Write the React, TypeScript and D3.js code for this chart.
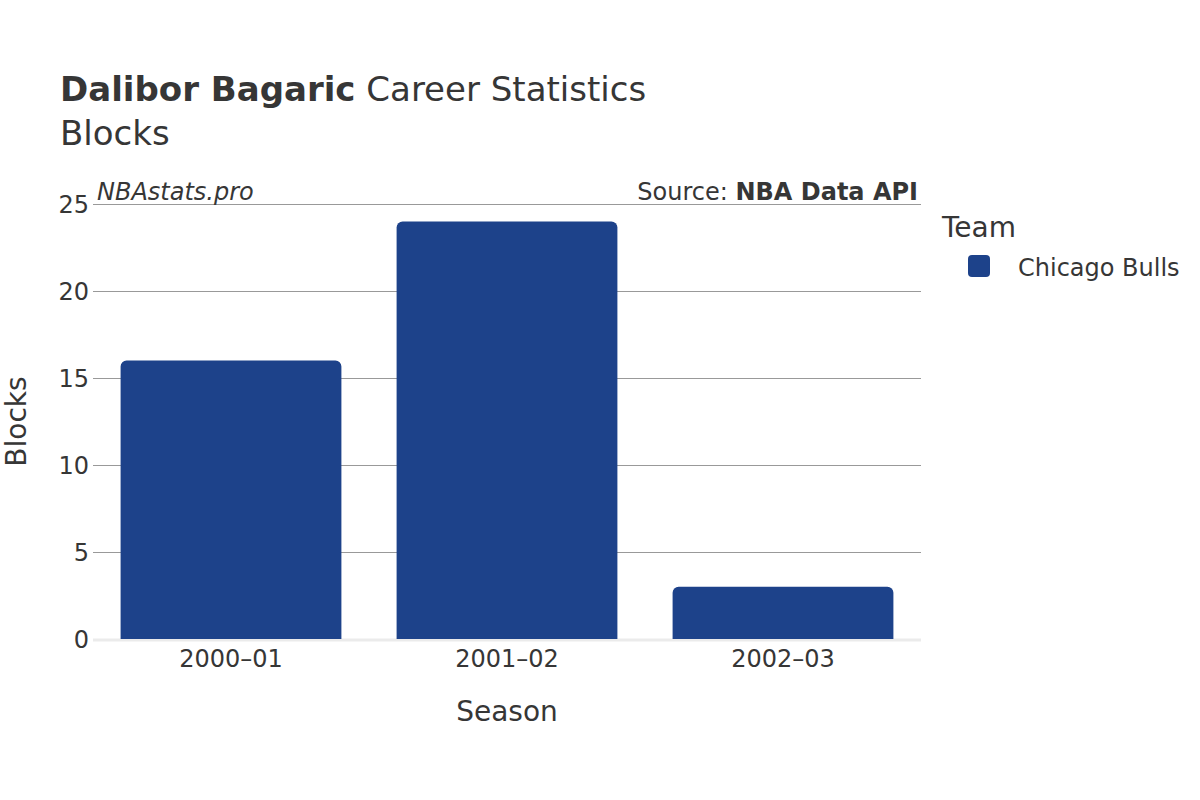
import React from "react";
import * as d3 from "d3";

const seasons = ["2000–01", "2001–02", "2002–03"];
const blocks = [16, 24, 3];
const yTicks = [0, 5, 10, 15, 20, 25];
const teamName = "Chicago Bulls";
const teamColor = "#1d428a";

const W = 1200;
const H = 800;
const M = { left: 93, right: 921, top: 204, bottom: 639 };
const FONT = "'DejaVu Sans', sans-serif";
const TXT = "#363636";

function barPath(x: number, y: number, w: number, h: number, r: number) {
  const rr = Math.min(r, h / 2, w / 2);
  const p = d3.path();
  p.moveTo(x, y + h);
  p.lineTo(x, y + rr);
  p.arcTo(x, y, x + rr, y, rr);
  p.lineTo(x + w - rr, y);
  p.arcTo(x + w, y, x + w, y + rr, rr);
  p.lineTo(x + w, y + h);
  p.closePath();
  return p.toString();
}

export default function App() {
  const x = d3
    .scaleBand<string>()
    .domain(seasons)
    .range([M.left, M.right])
    .paddingInner(0.2)
    .paddingOuter(0.1);
  const y = d3.scaleLinear().domain([0, 25]).range([M.bottom, M.top]);

  return (
    <svg width={W} height={H} style={{ display: "block", position: "absolute", left: 0, top: 0 }} fontFamily={FONT}>
      <rect width={W} height={H} fill="#fff" />
      <text x={60} y={101} fontSize={34} fill={TXT}>
        <tspan fontWeight="bold">Dalibor Bagaric</tspan>
        <tspan> Career Statistics</tspan>
      </text>
      <text x={60} y={145} fontSize={34} fill={TXT}>Blocks</text>

      {yTicks.map((t) =>
        t === 0 ? null : (
          <line
            key={t}
            x1={M.left}
            x2={M.right}
            y1={Math.floor(y(t)) + 0.5}
            y2={Math.floor(y(t)) + 0.5}
            stroke="#999"
            strokeWidth={1}
          />
        )
      )}
      <line x1={M.left} x2={M.right} y1={y(0) + 1} y2={y(0) + 1} stroke="#ebebeb" strokeWidth={3} />

      {yTicks.map((t) => (
        <text key={"l" + t} x={89} y={y(t) + 9} fontSize={24} textAnchor="end" fill={TXT}>
          {t}
        </text>
      ))}

      {seasons.map((s, i) => (
        <path
          key={s}
          d={barPath(x(s)!, y(blocks[i]), x.bandwidth(), y(0) - y(blocks[i]), 6)}
          fill={teamColor}
        />
      ))}

      {seasons.map((s) => (
        <text key={"x" + s} x={x(s)! + x.bandwidth() / 2} y={667} fontSize={24} textAnchor="middle" fill={TXT}>
          {s}
        </text>
      ))}

      <text x={97} y={200} fontSize={24} fontStyle="italic" fill={TXT}>NBAstats.pro</text>
      <text x={918} y={200} fontSize={24} textAnchor="end" fill={TXT}>
        <tspan>Source: </tspan>
        <tspan fontWeight="bold">NBA Data API</tspan>
      </text>

      <text x={507} y={721} fontSize={28} textAnchor="middle" fill={TXT}>Season</text>
      <text transform={`translate(26, ${(M.top + M.bottom) / 2}) rotate(-90)`} fontSize={28} textAnchor="middle" fill={TXT}>
        Blocks
      </text>

      <text x={942} y={237} fontSize={28} fill={TXT}>Team</text>
      <rect x={968} y={255} width={22} height={22} rx={4} fill={teamColor} />
      <text x={1018} y={276} fontSize={24} fill={TXT}>{teamName}</text>
    </svg>
  );
}
